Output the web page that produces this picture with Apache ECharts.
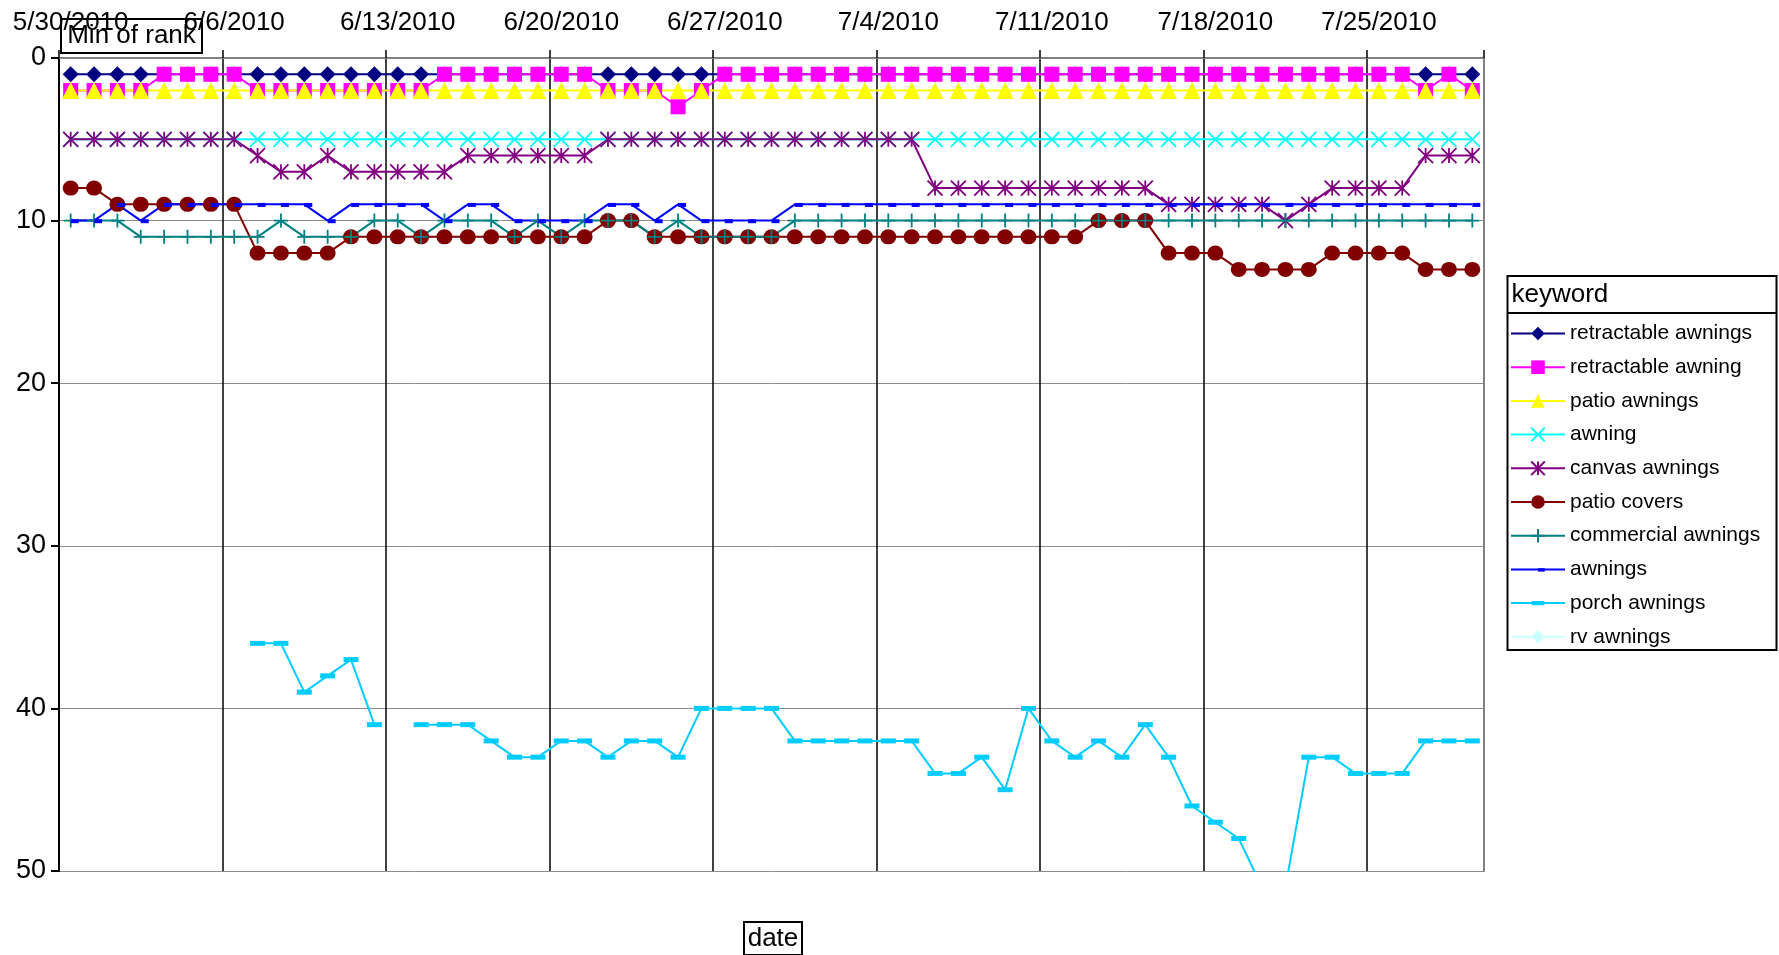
<!DOCTYPE html>
<html>
<head>
<meta charset="utf-8">
<script src="https://cdn.jsdelivr.net/npm/echarts@6/dist/echarts.min.js"></script>
<style>
  html, body { margin: 0; padding: 0; background: #ffffff; }
  #chart { width: 1779px; height: 955px; }
</style>
</head>
<body>
<div id="chart"></div>
<script>
// Daily categories, 5/30/2010 – 7/29/2010
const dates = [
  '5/30/2010', '5/31/2010',
  '6/1/2010', '6/2/2010', '6/3/2010', '6/4/2010', '6/5/2010', '6/6/2010', '6/7/2010', '6/8/2010', '6/9/2010', '6/10/2010',
  '6/11/2010', '6/12/2010', '6/13/2010', '6/14/2010', '6/15/2010', '6/16/2010', '6/17/2010', '6/18/2010', '6/19/2010', '6/20/2010',
  '6/21/2010', '6/22/2010', '6/23/2010', '6/24/2010', '6/25/2010', '6/26/2010', '6/27/2010', '6/28/2010', '6/29/2010', '6/30/2010',
  '7/1/2010', '7/2/2010', '7/3/2010', '7/4/2010', '7/5/2010', '7/6/2010', '7/7/2010', '7/8/2010', '7/9/2010', '7/10/2010',
  '7/11/2010', '7/12/2010', '7/13/2010', '7/14/2010', '7/15/2010', '7/16/2010', '7/17/2010', '7/18/2010', '7/19/2010', '7/20/2010',
  '7/21/2010', '7/22/2010', '7/23/2010', '7/24/2010', '7/25/2010', '7/26/2010', '7/27/2010', '7/28/2010', '7/29/2010'
];

// Rank axis
const rankMin = 0;
const rankMax = 50;
const rankStep = 10;

// Min of rank per keyword (null = not ranked)
const retractableAwnings = [
  1, 1, 1, 1, 1, 1, 1, 1, 1, 1, 1, 1, 1, 1, 1, 1, 1, 1, 1, 1,
  1, 1, 1, 1, 1, 1, 1, 1, 1, 1, 1, 1, 1, 1, 1, 1, 1, 1, 1, 1,
  1, 1, 1, 1, 1, 1, 1, 1, 1, 1, 1, 1, 1, 1, 1, 1, 1, 1, 1, 1, 1
];
const retractableAwning = [
  2, 2, 2, 2, 1, 1, 1, 1, 2, 2, 2, 2, 2, 2, 2, 2, 1, 1, 1, 1,
  1, 1, 1, 2, 2, 2, 3, 2, 1, 1, 1, 1, 1, 1, 1, 1, 1, 1, 1, 1,
  1, 1, 1, 1, 1, 1, 1, 1, 1, 1, 1, 1, 1, 1, 1, 1, 1, 1, 2, 1, 2
];
const patioAwnings = [
  2, 2, 2, 2, 2, 2, 2, 2, 2, 2, 2, 2, 2, 2, 2, 2, 2, 2, 2, 2,
  2, 2, 2, 2, 2, 2, 2, 2, 2, 2, 2, 2, 2, 2, 2, 2, 2, 2, 2, 2,
  2, 2, 2, 2, 2, 2, 2, 2, 2, 2, 2, 2, 2, 2, 2, 2, 2, 2, 2, 2, 2
];
const awning = [
  5, 5, 5, 5, 5, 5, 5, 5, 5, 5, 5, 5, 5, 5, 5, 5, 5, 5, 5, 5,
  5, 5, 5, 5, 5, 5, 5, 5, 5, 5, 5, 5, 5, 5, 5, 5, 5, 5, 5, 5,
  5, 5, 5, 5, 5, 5, 5, 5, 5, 5, 5, 5, 5, 5, 5, 5, 5, 5, 5, 5, 5
];
const canvasAwnings = [
  5, 5, 5, 5, 5, 5, 5, 5, 6, 7, 7, 6, 7, 7, 7, 7, 7, 6, 6, 6,
  6, 6, 6, 5, 5, 5, 5, 5, 5, 5, 5, 5, 5, 5, 5, 5, 5, 8, 8, 8,
  8, 8, 8, 8, 8, 8, 8, 9, 9, 9, 9, 9, 10, 9, 8, 8, 8, 8, 6, 6, 6
];
const patioCovers = [
  8, 8, 9, 9, 9, 9, 9, 9, 12, 12, 12, 12, 11, 11, 11, 11, 11, 11, 11, 11,
  11, 11, 11, 10, 10, 11, 11, 11, 11, 11, 11, 11, 11, 11, 11, 11, 11, 11, 11, 11,
  11, 11, 11, 11, 10, 10, 10, 12, 12, 12, 13, 13, 13, 13, 12, 12, 12, 12, 13, 13, 13
];
const commercialAwnings = [
  10, 10, 10, 11, 11, 11, 11, 11, 11, 10, 11, 11, 11, 10, 10, 11, 10, 10, 10, 11,
  10, 11, 10, 10, 10, 11, 10, 11, 11, 11, 11, 10, 10, 10, 10, 10, 10, 10, 10, 10,
  10, 10, 10, 10, 10, 10, 10, 10, 10, 10, 10, 10, 10, 10, 10, 10, 10, 10, 10, 10, 10
];
const awnings = [
  10, 10, 9, 10, 9, 9, 9, 9, 9, 9, 9, 10, 9, 9, 9, 9, 10, 9, 9, 10,
  10, 10, 10, 9, 9, 10, 9, 10, 10, 10, 10, 9, 9, 9, 9, 9, 9, 9, 9, 9,
  9, 9, 9, 9, 9, 9, 9, 9, 9, 9, 9, 9, 9, 9, 9, 9, 9, 9, 9, 9, 9
];
const porchAwnings = [
  null, null, null, null, null, null, null, null, 36, 36, 39, 38, 37, 41, null, 41, 41, 41, 42, 43,
  43, 42, 42, 43, 42, 42, 43, 40, 40, 40, 40, 42, 42, 42, 42, 42, 42, 44, 44, 43,
  45, 40, 42, 43, 42, 43, 41, 43, 46, 47, 48, 51, 51, 43, 43, 44, 44, 44, 42, 42, 42
];
const rvAwnings = [
  null, null, null, null, null, null, null, null, null, null, null, null, null, null, null, null, null, null, null, null,
  null, null, null, null, null, null, null, null, null, null, null, null, null, null, null, null, null, null, null, null,
  null, null, null, null, null, null, null, null, null, null, null, null, null, null, null, null, null, null, null, null, null
];

const keywords = [
  'retractable awnings', 'retractable awning', 'patio awnings', 'awning', 'canvas awnings',
  'patio covers', 'commercial awnings', 'awnings', 'porch awnings', 'rv awnings'
];
const keywordValues = [
  retractableAwnings, retractableAwning, patioAwnings, awning, canvasAwnings,
  patioCovers, commercialAwnings, awnings, porchAwnings, rvAwnings
];

// Marker shapes; the dash markers sit inside a square 16x16 frame
// (two bare moveTo points) so they keep their proportions in the legend too.
const FONT = '"Liberation Sans", Arial, sans-serif';
const markerX = 'path://M0,0L10,10M10,0L0,10';
const markerStar = 'path://M0,0L10,10M10,0L0,10M5,0L5,10';
const markerPlus = 'path://M5,0L5,10M0,5L10,5';
const markerDash = 'path://M0,0M16,16M8,6.6H16V10.6H8Z';
const markerBar = 'path://M0,0M16,16M0.5,5.5H15.5V10.5H0.5Z';

const styles = [
  { color: '#000080', symbol: 'diamond', size: 16 },
  { color: '#FF00FF', symbol: 'rect', size: 15 },
  { color: '#FFFF00', symbol: 'triangle', size: 17 },
  { color: '#00FFFF', symbol: markerX, size: 15, stroke: true },
  { color: '#800080', symbol: markerStar, size: 15, stroke: true },
  { color: '#800000', symbol: 'circle', size: [16, 15] },
  { color: '#008080', symbol: markerPlus, size: 14, stroke: true },
  { color: '#0000FF', symbol: markerDash, size: 16 },
  { color: '#00CCFF', symbol: markerBar, size: 16 },
  { color: '#CCFFFF', symbol: 'diamond', size: 16 }
];

const series = keywords.map((name, i) => {
  const s = styles[i];
  return {
    name: name,
    type: 'line',
    data: keywordValues[i],
    symbol: s.symbol,
    symbolSize: s.size,
    showSymbol: true,
    showAllSymbol: true,
    connectNulls: false,
    clip: true,
    lineStyle: { color: s.color, width: 2 },
    itemStyle: s.stroke
      ? { color: s.color, borderColor: s.color, borderWidth: 1.8 }
      : { color: s.color, borderColor: s.color, borderWidth: 0 },
    emphasis: { disabled: true },
    xAxisIndex: 0,
    yAxisIndex: 0
  };
});

// Vertical week lines: black inside, last one (plot edge) grey
const weekLineColors = ['#000000', '#000000', '#000000', '#000000', '#000000',
  '#000000', '#000000', '#000000', '#000000', '#808080'];

const chart = echarts.init(document.getElementById('chart'), null, { renderer: 'canvas' });

chart.setOption({
  animation: false,
  backgroundColor: '#ffffff',
  textStyle: { fontFamily: FONT },
  grid: { left: 59, right: 295, top: 58, bottom: 84, containLabel: false },
  xAxis: [
    {
      type: 'category',
      position: 'top',
      data: dates,
      boundaryGap: true,
      axisLine: { show: true, lineStyle: { color: '#000000', width: 2 } },
      axisTick: { show: true, interval: 6, length: 8, inside: false, lineStyle: { color: '#000000', width: 1.5 } },
      axisLabel: { show: true, interval: 6, margin: 22, fontSize: 26, color: '#000000', fontFamily: FONT },
      splitLine: { show: true, interval: 6, lineStyle: { color: weekLineColors, width: 1.5 } }
    },
    {
      type: 'category',
      position: 'bottom',
      data: dates,
      boundaryGap: true,
      axisLine: { show: true, lineStyle: { color: '#808080', width: 2 } },
      axisTick: { show: false },
      axisLabel: { show: false },
      splitLine: { show: false }
    }
  ],
  yAxis: [
    {
      type: 'value',
      inverse: true,
      min: rankMin,
      max: rankMax,
      interval: rankStep,
      axisLine: { show: true, lineStyle: { color: '#000000', width: 2 } },
      axisTick: { show: true, length: 8, inside: false, lineStyle: { color: '#000000', width: 2 } },
      axisLabel: { show: true, margin: 13, fontSize: 27, color: '#000000', fontFamily: FONT },
      splitLine: { show: true, lineStyle: { color: '#8c8c8c', width: 1 } }
    },
    {
      type: 'value',
      inverse: true,
      position: 'right',
      min: rankMin,
      max: rankMax,
      interval: rankStep,
      axisLine: { show: true, lineStyle: { color: '#808080', width: 2 } },
      axisTick: { show: false },
      axisLabel: { show: false },
      splitLine: { show: false }
    }
  ],
  legend: {
    orient: 'vertical',
    left: 1510,
    top: 323,
    padding: 0,
    itemWidth: 54,
    itemHeight: 17,
    itemGap: 12.7,
    textStyle: { fontSize: 21, lineHeight: 21, color: '#000000', fontFamily: FONT },
    data: keywords,
    selectedMode: false
  },
  graphic: [
    {
      type: 'group',
      left: 1505,
      top: 275,
      z: 0,
      children: [
        { type: 'rect', shape: { x: 0, y: 0, width: 269, height: 374 },
          style: { fill: '#ffffff', stroke: '#000000', lineWidth: 2 } },
        { type: 'line', shape: { x1: 0, y1: 37, x2: 269, y2: 37 },
          style: { stroke: '#000000', lineWidth: 2 } },
        { type: 'text', x: 4, y: 19,
          style: { text: 'keyword', font: '26px ' + FONT, fill: '#000000', textVerticalAlign: 'middle' } }
      ]
    },
    {
      type: 'group',
      left: 60,
      top: 18,
      z: 100,
      children: [
        { type: 'rect', shape: { x: 0, y: 0, width: 141, height: 34 },
          style: { fill: '#ffffff', stroke: '#000000', lineWidth: 2 } },
        { type: 'text', x: 70.5, y: 17,
          style: { text: 'Min of rank', font: '26px ' + FONT, fill: '#000000', textAlign: 'center', textVerticalAlign: 'middle' } }
      ]
    },
    {
      type: 'group',
      left: 743,
      top: 921,
      z: 100,
      children: [
        { type: 'rect', shape: { x: 0, y: 0, width: 58, height: 33 },
          style: { fill: '#ffffff', stroke: '#000000', lineWidth: 2 } },
        { type: 'text', x: 29, y: 17,
          style: { text: 'date', font: '26px ' + FONT, fill: '#000000', textAlign: 'center', textVerticalAlign: 'middle' } }
      ]
    }
  ],
  series: series
});
</script>
</body>
</html>
